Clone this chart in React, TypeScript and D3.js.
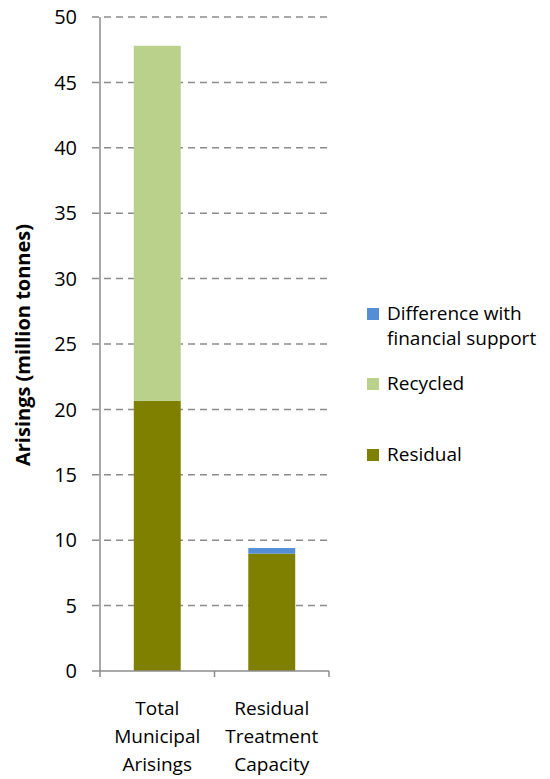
import React from "react";
import * as d3 from "d3";

const categories: string[][] = [
  ["Total", "Municipal", "Arisings"],
  ["Residual", "Treatment", "Capacity"],
];
const residual = [20.65, 8.97];
const recycled = [27.15, 0];
const difference = [0, 0.43];
const yTicks = [0, 5, 10, 15, 20, 25, 30, 35, 40, 45, 50];

const seriesNames = ["Residual", "Recycled", "Difference with financial support"];
const seriesColors = ["#808000", "#b9d18a", "#558ed5"];

const W = 550;
const H = 779;
const margin = { left: 100, right: 221, top: 17, bottom: 108 };
const FONT = "'Open Sans', sans-serif";

export default function App() {
  const plotRight = W - margin.right;
  const plotBottom = H - margin.bottom;

  const x = d3
    .scaleBand<number>()
    .domain(categories.map((_, i) => i))
    .range([margin.left, plotRight])
    .paddingInner(0.59)
    .paddingOuter(0.295);
  const y = d3.scaleLinear().domain([0, 50]).range([plotBottom, margin.top]);

  const rows = categories.map((_, i) => ({
    Residual: residual[i],
    Recycled: recycled[i],
    "Difference with financial support": difference[i],
    idx: i,
  }));
  const stacked = d3.stack<any>().keys(seriesNames)(rows);

  const band = (plotRight - margin.left) / categories.length;
  const legendItems = [
    { name: "Difference with", name2: "financial support", color: seriesColors[2], y: 308 },
    { name: "Recycled", color: seriesColors[1], y: 378 },
    { name: "Residual", color: seriesColors[0], y: 449 },
  ];

  return (
    <svg width={W} height={H} style={{ position: "absolute", left: 0, top: 0 }}>
      <rect width={W} height={H} fill="#fff" />
      {/* gridlines with tick marks */}
      {yTicks.map((t) =>
        t === 0 ? null : (
          <line
            key={t}
            x1={margin.left - 8}
            x2={plotRight}
            y1={y(t)}
            y2={y(t)}
            stroke="#8c8c8c"
            strokeWidth={1.5}
            strokeDasharray="7,5"
          />
        )
      )}
      <line x1={margin.left - 8} x2={margin.left} y1={y(0)} y2={y(0)} stroke="#8c8c8c" strokeWidth={1.5} />
      {yTicks.map((t) => (
        <text
          key={"l" + t}
          x={77}
          y={y(t)}
          dy="0.36em"
          textAnchor="end"
          fontFamily={FONT}
          fontSize={20}
          fill="#000"
        >
          {t}
        </text>
      ))}
      {/* bars */}
      {stacked.map((s, si) =>
        s.map((d, i) =>
          d[1] - d[0] > 0 ? (
            <rect
              key={si + "-" + i}
              x={x(i)!}
              width={x.bandwidth()}
              y={y(d[1])}
              height={y(d[0]) - y(d[1])}
              fill={seriesColors[si]}
            />
          ) : null
        )
      )}
      {/* axes */}
      <line x1={margin.left} x2={margin.left} y1={margin.top} y2={plotBottom + 6} stroke="#8c8c8c" strokeWidth={1.5} />
      <line x1={margin.left} x2={plotRight} y1={plotBottom} y2={plotBottom} stroke="#8c8c8c" strokeWidth={1.5} />
      {categories.map((_, i) => (
        <line
          key={"xt" + i}
          x1={margin.left + band * (i + 1)}
          x2={margin.left + band * (i + 1)}
          y1={plotBottom}
          y2={plotBottom + 6}
          stroke="#8c8c8c"
          strokeWidth={1.5}
        />
      ))}
      {categories.map((lines, i) =>
        lines.map((ln, j) => (
          <text
            key={"c" + i + j}
            x={x(i)! + x.bandwidth() / 2}
            y={715 + j * 28}
            textAnchor="middle"
            fontFamily={FONT}
            fontSize={19}
            fill="#000"
          >
            {ln}
          </text>
        ))
      )}
      <text
        transform={`translate(30, 345) rotate(-90)`}
        textAnchor="middle"
        fontFamily={FONT}
        fontSize={20}
        fontWeight="bold"
        fill="#000"
      >
        Arisings (million tonnes)
      </text>
      {/* legend */}
      {legendItems.map((it) => (
        <g key={it.name}>
          <rect x={367} y={it.y} width={12} height={12} fill={it.color} />
          <text x={387} y={it.y + 12} fontFamily={FONT} fontSize={19} fill="#000">
            {it.name}
          </text>
          {it.name2 ? (
            <text x={387} y={it.y + 37} fontFamily={FONT} fontSize={19} fill="#000">
              {it.name2}
            </text>
          ) : null}
        </g>
      ))}
    </svg>
  );
}
